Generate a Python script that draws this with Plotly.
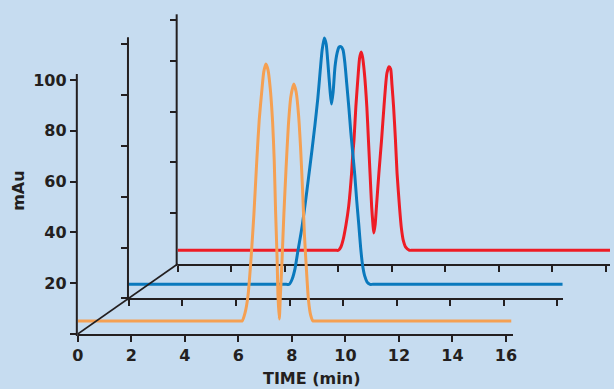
import plotly.graph_objects as go

# ---------------- data ----------------
tick_times = [0, 2, 4, 6, 8, 10, 12, 14, 16]
tick_mau = [0, 20, 40, 60, 80, 100]
tick_mau_labels = ["", "20", "40", "60", "80", "100"]
back_tick_mau = [20, 40, 60, 80, 96]

orange_t = [0, 6.10, 6.14, 6.25, 6.36, 6.47, 6.58, 6.69, 6.78, 6.88, 6.95, 7.03, 7.11, 7.19,
            7.28, 7.34, 7.39, 7.45, 7.48, 7.53, 7.57, 7.63, 7.70, 7.78, 7.87, 7.96, 8.07, 8.16,
            8.25, 8.33, 8.40, 8.47, 8.55, 8.62, 8.70, 8.79, 8.84, 16.2]
orange_v = [5.1, 5.1, 5.1, 8.3, 15.0, 29.1, 46.9, 68.5, 84.3, 96.1, 103.2, 106.3, 103.9, 96.9,
            83.5, 68.5, 48.8, 29.1, 15.4, 5.9, 15.0, 28.4, 46.9, 64.6, 82.3, 93.3, 98.4, 95.3,
            86.2, 72.4, 56.7, 39.0, 24.4, 13.4, 7.5, 5.1, 5.1, 5.1]

blue_t = [0, 5.88, 5.99, 6.10, 6.21, 6.32, 6.45, 6.58, 6.71, 6.84, 6.95, 7.06, 7.15, 7.22, 7.30,
          7.37, 7.44, 7.52, 7.57, 7.63, 7.70, 7.78, 7.85, 7.92, 8.00, 8.07, 8.14, 8.22, 8.29,
          8.36, 8.44, 8.51, 8.59, 8.66, 8.73, 8.81, 8.90, 9.01, 9.12, 16.21]
blue_v = [5.5, 5.5, 5.5, 7.6, 11.9, 19.0, 26.9, 36.7, 47.4, 58.4, 68.2, 78.9, 89.9, 97.8, 102.5,
          100.1, 91.9, 81.2, 76.5, 81.2, 91.1, 96.6, 98.9, 99.1, 97.8, 92.6, 84.4, 74.9, 65.5,
          57.6, 48.5, 38.7, 28.9, 19.8, 13.1, 8.8, 6.4, 5.5, 5.5, 5.5]

red_t = [0, 5.90, 6.01, 6.10, 6.18, 6.29, 6.39, 6.45, 6.50, 6.54, 6.59, 6.66, 6.75, 6.80, 6.86,
         6.91, 6.98, 7.07, 7.13, 7.19, 7.25, 7.30, 7.33, 7.38, 7.43, 7.52, 7.62, 7.71, 7.82,
         7.90, 7.96, 8.01, 8.07, 8.14, 8.20, 8.29, 8.36, 8.43, 8.53, 8.66, 8.77, 16.16]
red_v = [5.4, 5.4, 5.4, 6.7, 9.4, 15.4, 22.6, 29.1, 35.7, 42.5, 48.8, 61.9, 75.1, 81.1, 83.5,
         81.5, 75.1, 61.9, 48.8, 35.7, 22.6, 15.4, 12.2, 15.4, 22.6, 35.7, 48.8, 61.9, 75.1,
         77.7, 76.8, 70.5, 61.9, 48.8, 35.7, 22.6, 14.2, 9.4, 6.5, 5.4, 5.4, 5.4]

# ---------------- layout geometry ----------------
W, H = 614, 389
PX_PER_MIN = 27.2
PX_PER_MAU = 2.54
PLOT_TOP = 3.0          # top of every layer's drawing area (px from top)
INK = "#231f20"
BG = "#c6dcf0"
ORANGE = "#f5a052"
BLUE = "#0a79bd"
RED = "#ee1c25"
FONT = "DejaVu Sans"

# layer origins in pixels (x from left, y from top), end of time axis, top of mAu axis line
layers = {
    "back":   dict(ox=174.5, oy=264.0, xend=614.0, ytop=14.3),
    "middle": dict(ox=125.0, oy=298.3, xend=566.0, ytop=37.3),
    "front":  dict(ox=73.0,  oy=334.0, xend=515.0, ytop=74.0),
}

fig = go.Figure()

axis_ids = {"back": ("x", "y"), "middle": ("x2", "y2"), "front": ("x3", "y3")}
series = {"back": (red_t, red_v, RED), "middle": (blue_t, blue_v, BLUE),
          "front": (orange_t, orange_v, ORANGE)}

shapes = []
for name in ["back", "middle", "front"]:
    L = layers[name]
    xa, ya = axis_ids[name]
    t, v, col = series[name]
    fig.add_trace(go.Scatter(x=t, y=v, mode="lines", xaxis=xa, yaxis=ya,
                             line=dict(color=col, width=3, shape="spline", smoothing=0.6),
                             hoverinfo="skip", showlegend=False))
    xr = (L["xend"] - L["ox"]) / PX_PER_MIN
    yr = (L["oy"] - PLOT_TOP) / PX_PER_MAU
    xdom = [L["ox"] / W, L["xend"] / W]
    ydom = [(H - L["oy"]) / H, (H - PLOT_TOP) / H]
    front = name == "front"
    xkey = "xaxis" + xa[1:]
    ykey = "yaxis" + ya[1:]
    common = dict(showgrid=False, zeroline=False, linecolor=INK, linewidth=2,
                  ticks="outside", tickwidth=2, tickcolor=INK, fixedrange=True,
                  tickfont=dict(family=FONT, size=16, color=INK, weight="bold"))
    xcfg = dict(common, showline=True, ticklen=6, domain=xdom, range=[0, xr],
                tickmode="array", tickvals=tick_times,
                ticktext=[str(x) for x in tick_times], showticklabels=front, anchor=ya)
    if name == "back":
        ycfg = dict(common, showline=False, ticklen=7, domain=ydom, range=[0, yr],
                    tickmode="array", tickvals=back_tick_mau, showticklabels=False, anchor=xa)
    else:
        ycfg = dict(common, showline=False, ticklen=7, domain=ydom, range=[0, yr],
                    tickmode="array", tickvals=tick_mau, ticktext=tick_mau_labels,
                    showticklabels=front, anchor=xa)
    fig.update_layout(**{xkey: xcfg, ykey: ycfg})
    # vertical (mAu) axis line, ending at its own top
    shapes.append(dict(type="line", xref="paper", yref="paper", layer="below",
                       x0=(L["ox"] - 1) / W, x1=(L["ox"] - 1) / W,
                       y0=(H - (L["oy"] + 2)) / H, y1=(H - L["ytop"]) / H,
                       line=dict(color=INK, width=2)))

# depth line joining the three origins (drawn on the front layer)
F, B = layers["front"], layers["back"]
fig.add_trace(go.Scatter(x=[0, (B["ox"] - F["ox"]) / PX_PER_MIN],
                         y=[0, (F["oy"] - B["oy"]) / PX_PER_MAU],
                         mode="lines", xaxis="x3", yaxis="y3",
                         line=dict(color=INK, width=1.6), hoverinfo="skip", showlegend=False))

fig.add_annotation(text="TIME (min)", xref="paper", yref="paper", x=311 / W, y=(H - 378.5) / H,
                   showarrow=False, xanchor="center", yanchor="middle",
                   font=dict(family=FONT, size=16, color=INK, weight="bold"))
fig.add_annotation(text="mAu", xref="paper", yref="paper", x=12 / W, y=(H - 191) / H,
                   showarrow=False, xanchor="center", yanchor="middle", textangle=-90,
                   font=dict(family=FONT, size=16, color=INK, weight="bold"))

fig.update_layout(width=W, height=H, margin=dict(l=0, r=0, t=0, b=0), autosize=False,
                  paper_bgcolor=BG, plot_bgcolor="rgba(0,0,0,0)", showlegend=False,
                  shapes=shapes)

fig.write_html("out.html", config={"displayModeBar": False},
               post_script="document.body.style.margin='0';"
                           "document.body.style.overflow='hidden';")
